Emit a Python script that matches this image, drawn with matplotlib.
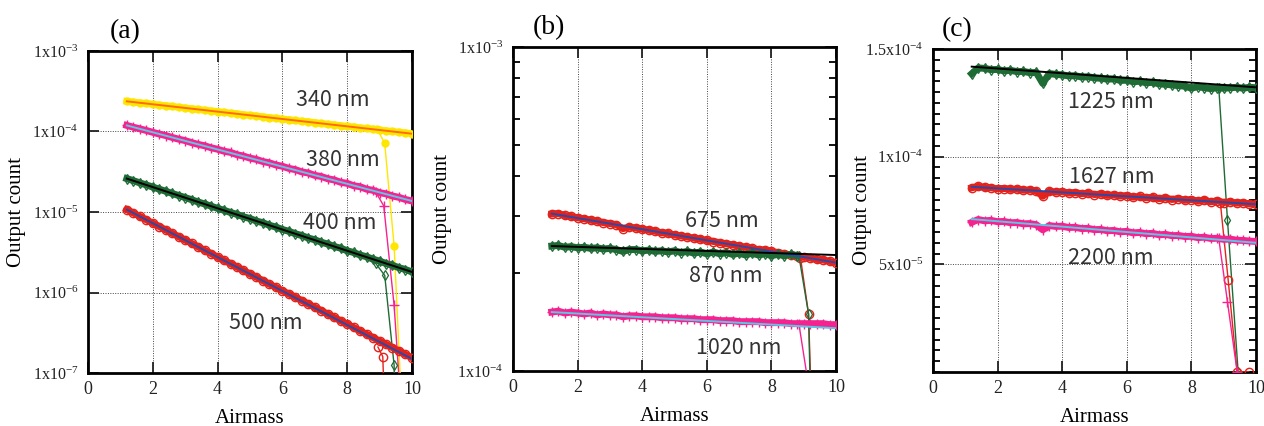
import matplotlib
matplotlib.use("Agg")
import matplotlib.pyplot as plt
from matplotlib.ticker import FixedLocator, FuncFormatter, MultipleLocator, NullLocator

plt.rcParams['font.family'] = ['Liberation Serif', 'DejaVu Serif']
plt.rcParams['mathtext.default'] = 'regular'

# airmass grid shared by every wavelength
airmass = [1.2, 1.4, 1.6, 1.8, 2.0, 2.2, 2.4, 2.6, 2.8, 3.0, 3.2, 3.4, 3.6, 3.8, 4.0,
           4.2, 4.4, 4.6, 4.8, 5.0, 5.2, 5.4, 5.6, 5.8, 6.0, 6.2, 6.4, 6.6, 6.8, 7.0,
           7.2, 7.4, 7.6, 7.8, 8.0, 8.2, 8.4, 8.6, 8.8, 9.0, 9.2, 9.4, 9.6, 9.8, 10.0]

# (a) UV / blue channels
c340 = [2.37e-4, 2.32e-4, 2.27e-4, 2.23e-4, 2.18e-4, 2.13e-4, 2.09e-4, 2.05e-4, 2.00e-4, 1.96e-4,
        1.92e-4, 1.88e-4, 1.84e-4, 1.80e-4, 1.77e-4, 1.73e-4, 1.69e-4, 1.66e-4, 1.62e-4, 1.59e-4,
        1.56e-4, 1.52e-4, 1.49e-4, 1.46e-4, 1.43e-4, 1.40e-4, 1.37e-4, 1.34e-4, 1.32e-4, 1.29e-4,
        1.26e-4, 1.23e-4, 1.21e-4, 1.18e-4, 1.16e-4, 1.14e-4, 1.11e-4, 1.09e-4, 1.07e-4, 1.04e-4,
        1.02e-4, 1.00e-4, 9.8e-5, 9.6e-5, 9.4e-5]
c380 = [1.19e-4, 1.13e-4, 1.08e-4, 1.03e-4, 9.77e-5, 9.30e-5, 8.90e-5, 8.43e-5, 8.03e-5, 7.70e-5,
        7.27e-5, 6.92e-5, 6.65e-5, 6.28e-5, 6.02e-5, 5.69e-5, 5.50e-5, 5.15e-5, 4.95e-5, 4.67e-5,
        4.50e-5, 4.23e-5, 4.08e-5, 3.84e-5, 3.70e-5, 3.48e-5, 3.36e-5, 3.15e-5, 3.05e-5, 2.85e-5,
        2.76e-5, 2.59e-5, 2.50e-5, 2.34e-5, 2.27e-5, 2.12e-5, 2.06e-5, 1.92e-5, 1.86e-5, 1.74e-5,
        1.68e-5, 1.58e-5, 1.52e-5, 1.43e-5, 1.37e-5]
c400 = [2.60e-5, 2.45e-5, 2.30e-5, 2.17e-5, 2.04e-5, 1.92e-5, 1.81e-5, 1.70e-5, 1.60e-5, 1.51e-5,
        1.42e-5, 1.33e-5, 1.26e-5, 1.18e-5, 1.11e-5, 1.05e-5, 9.85e-6, 9.35e-6, 8.72e-6, 8.30e-6,
        7.72e-6, 7.35e-6, 6.84e-6, 6.50e-6, 6.06e-6, 5.76e-6, 5.37e-6, 5.10e-6, 4.75e-6, 4.52e-6,
        4.21e-6, 4.00e-6, 3.73e-6, 3.55e-6, 3.30e-6, 3.14e-6, 2.92e-6, 2.78e-6, 2.59e-6, 2.46e-6,
        2.29e-6, 2.18e-6, 2.03e-6, 1.93e-6, 1.80e-6]
c500 = [1.07e-5, 9.71e-6, 8.82e-6, 8.00e-6, 7.27e-6, 6.60e-6, 5.99e-6, 5.44e-6, 4.93e-6, 4.48e-6,
        4.07e-6, 3.69e-6, 3.35e-6, 3.04e-6, 2.76e-6, 2.51e-6, 2.28e-6, 2.07e-6, 1.88e-6, 1.70e-6,
        1.55e-6, 1.40e-6, 1.27e-6, 1.16e-6, 1.05e-6, 9.60e-7, 8.70e-7, 7.95e-7, 7.20e-7, 6.55e-7,
        5.95e-7, 5.40e-7, 4.90e-7, 4.45e-7, 4.05e-7, 3.68e-7, 3.33e-7, 3.03e-7, 2.75e-7, 2.50e-7,
        2.27e-7, 2.06e-7, 1.88e-7, 1.70e-7, 1.55e-7]

# (b) visible / near-IR channels
c675 = [3.05e-4, 3.06e-4, 3.02e-4, 3.00e-4, 2.97e-4, 2.95e-4, 2.92e-4, 2.90e-4, 2.87e-4, 2.85e-4,
        2.83e-4, 2.75e-4, 2.78e-4, 2.76e-4, 2.74e-4, 2.72e-4, 2.70e-4, 2.67e-4, 2.66e-4, 2.63e-4,
        2.61e-4, 2.59e-4, 2.57e-4, 2.55e-4, 2.53e-4, 2.51e-4, 2.49e-4, 2.47e-4, 2.45e-4, 2.43e-4,
        2.41e-4, 2.39e-4, 2.37e-4, 2.36e-4, 2.34e-4, 2.32e-4, 2.30e-4, 2.28e-4, 2.27e-4, 2.25e-4,
        2.23e-4, 2.21e-4, 2.20e-4, 2.18e-4, 2.16e-4]
c870 = [2.43e-4, 2.44e-4, 2.41e-4, 2.42e-4, 2.40e-4, 2.41e-4, 2.39e-4, 2.40e-4, 2.38e-4, 2.39e-4,
        2.37e-4, 2.34e-4, 2.37e-4, 2.37e-4, 2.35e-4, 2.36e-4, 2.34e-4, 2.35e-4, 2.33e-4, 2.35e-4,
        2.32e-4, 2.34e-4, 2.31e-4, 2.33e-4, 2.30e-4, 2.33e-4, 2.30e-4, 2.32e-4, 2.29e-4, 2.31e-4,
        2.28e-4, 2.31e-4, 2.28e-4, 2.30e-4, 2.27e-4, 2.29e-4, 2.27e-4, 2.29e-4, 2.27e-4]
c1020 = [1.52e-4, 1.53e-4, 1.51e-4, 1.52e-4, 1.51e-4, 1.50e-4, 1.51e-4, 1.49e-4, 1.50e-4, 1.49e-4,
         1.49e-4, 1.47e-4, 1.48e-4, 1.48e-4, 1.47e-4, 1.47e-4, 1.47e-4, 1.46e-4, 1.46e-4, 1.46e-4,
         1.45e-4, 1.45e-4, 1.45e-4, 1.44e-4, 1.44e-4, 1.44e-4, 1.43e-4, 1.43e-4, 1.43e-4, 1.42e-4,
         1.42e-4, 1.42e-4, 1.42e-4, 1.41e-4, 1.41e-4, 1.41e-4, 1.41e-4, 1.40e-4, 1.40e-4, 1.40e-4,
         1.40e-4, 1.40e-4, 1.40e-4, 1.39e-4, 1.39e-4]

# (c) short-wave IR channels
c1225 = [1.385e-4, 1.412e-4, 1.410e-4, 1.404e-4, 1.405e-4, 1.398e-4, 1.401e-4, 1.395e-4, 1.396e-4, 1.390e-4,
         1.391e-4, 1.340e-4, 1.386e-4, 1.382e-4, 1.380e-4, 1.375e-4, 1.376e-4, 1.370e-4, 1.371e-4, 1.366e-4,
         1.364e-4, 1.360e-4, 1.361e-4, 1.354e-4, 1.355e-4, 1.348e-4, 1.350e-4, 1.343e-4, 1.345e-4, 1.338e-4,
         1.336e-4, 1.333e-4, 1.330e-4, 1.327e-4, 1.318e-4, 1.325e-4, 1.320e-4, 1.316e-4, 1.320e-4, 1.318e-4,
         1.320e-4, 1.322e-4, 1.318e-4, 1.322e-4, 1.320e-4]
c1627 = [8.55e-5, 8.62e-5, 8.57e-5, 8.55e-5, 8.51e-5, 8.52e-5, 8.48e-5, 8.49e-5, 8.44e-5, 8.45e-5,
         8.40e-5, 8.16e-5, 8.39e-5, 8.35e-5, 8.37e-5, 8.31e-5, 8.33e-5, 8.28e-5, 8.30e-5, 8.24e-5,
         8.26e-5, 8.20e-5, 8.22e-5, 8.17e-5, 8.19e-5, 8.12e-5, 8.15e-5, 8.09e-5, 8.11e-5, 8.05e-5,
         8.08e-5, 8.01e-5, 8.05e-5, 7.97e-5, 8.01e-5, 7.93e-5, 7.98e-5, 7.90e-5, 7.95e-5, 7.87e-5,
         7.90e-5, 7.84e-5, 7.86e-5, 7.80e-5, 7.80e-5]
c2200 = [6.95e-5, 7.08e-5, 7.02e-5, 7.04e-5, 6.98e-5, 6.99e-5, 6.93e-5, 6.94e-5, 6.88e-5, 6.89e-5,
         6.84e-5, 6.60e-5, 6.80e-5, 6.76e-5, 6.77e-5, 6.71e-5, 6.72e-5, 6.66e-5, 6.67e-5, 6.61e-5,
         6.62e-5, 6.56e-5, 6.57e-5, 6.51e-5, 6.53e-5, 6.46e-5, 6.48e-5, 6.42e-5, 6.44e-5, 6.37e-5,
         6.39e-5, 6.33e-5, 6.34e-5, 6.29e-5, 6.30e-5, 6.24e-5, 6.26e-5, 6.20e-5, 6.21e-5, 6.16e-5,
         6.17e-5, 6.12e-5, 6.11e-5, 6.08e-5, 6.06e-5]

# Langley fits: (airmass, count) at both ends
fit_x = [1.2, 10.0]
fit340 = [2.37e-4, 9.39e-5]
fit380 = [1.19e-4, 1.37e-5]
fit400 = [2.60e-5, 1.80e-6]
fit500 = [1.07e-5, 1.50e-7]
fit675 = [3.06e-4, 2.16e-4]
fit870 = [2.43e-4, 2.28e-4]
fit1020 = [1.52e-4, 1.355e-4]
fit1225 = [1.418e-4, 1.322e-4]
fit1627 = [8.60e-5, 7.79e-5]
fit2200 = [7.10e-5, 6.00e-5]

# sunset run, counts collapse past airmass ~9
drop340_x = [8.93, 9.16, 9.45, 9.75]
drop340_y = [1.07e-4, 7.1e-5, 3.8e-6, 1e-8]
drop380_x = [8.88, 9.13, 9.45, 9.70]
drop380_y = [1.78e-5, 1.19e-5, 6.9e-7, 2.2e-8]
drop400_x = [8.88, 9.16, 9.45, 9.50]
drop400_y = [2.3e-6, 1.63e-6, 1.25e-7, 1e-8]
drop500_x = [8.95, 9.10, 9.20]
drop500_y = [2.1e-7, 1.6e-7, 1e-8]
drop675_x = [8.90, 9.15, 9.22]
drop675_y = [2.24e-4, 1.5e-4, 9e-5]
drop870_x = [8.85, 9.15, 9.20]
drop870_y = [2.27e-4, 1.5e-4, 9e-5]
drop1020_x = [8.85, 9.15]
drop1020_y = [1.40e-4, 9e-5]
drop1225_x = [8.85, 9.12, 9.45]
drop1225_y = [1.32e-4, 7.05e-5, 0.0]
drop1627_x = [8.90, 9.14, 9.42, 9.78]
drop1627_y = [7.85e-5, 4.29e-5, 0.0, 0.0]
drop2200_x = [8.85, 9.12, 9.42]
drop2200_y = [6.2e-5, 3.25e-5, 0.0]

YELLOW, ORANGE = '#ffe600', '#ff6a10'
PINK, CYAN = '#f5238f', '#5cc6e4'
GREEN, BLACK = '#1f6b35', '#000000'
RED, BLUE = '#e3221c', '#2b48a6'

STYLE = {
    'yellow': dict(color=YELLOW, marker='o', ms=5, mfc=YELLOW, mec=YELLOW),
    'pink': dict(color=PINK, marker='+', ms=7, mew=1.0),
    'green': dict(color=GREEN, marker='d', ms=5, mfc='none', mew=0.9),
    'red': dict(color=RED, marker='o', ms=6, mfc='none', mew=1.0),
}
FIT_COLOR = {'yellow': ORANGE, 'pink': CYAN, 'green': BLACK, 'red': BLUE}


def draw_channel(ax, x, y, fit_y, dx, dy, kind):
    st = STYLE[kind]
    ax.plot(dx, dy, lw=1.0, zorder=3, **st)
    ax.plot(x, y, lw=5.0, zorder=4, **st)
    ax.plot(fit_x, fit_y, color=FIT_COLOR[kind], lw=1.4, zorder=5)


def sci_label(v):
    labels = {1e-7: '1x10$^{-7}$', 1e-6: '1x10$^{-6}$', 1e-5: '1x10$^{-5}$',
              1e-4: '1x10$^{-4}$', 1e-3: '1x10$^{-3}$', 5e-5: '5x10$^{-5}$',
              1.5e-4: '1.5x10$^{-4}$'}
    for k, s in labels.items():
        if abs(v - k) < k * 1e-6:
            return s
    return ''


def style_axes(ax, tag, tag_x):
    ax.set_xlim(0, 10)
    ax.xaxis.set_major_locator(MultipleLocator(2))
    ax.yaxis.set_major_formatter(FuncFormatter(lambda v, p: sci_label(v)))
    ax.grid(True, which='major', linestyle=(0, (1, 1.5)), color='#444444', linewidth=0.7)
    ax.set_axisbelow(True)
    ax.tick_params(which='both', direction='in', top=True, right=True, width=1.3)
    ax.tick_params(which='major', length=8)
    ax.tick_params(which='minor', length=5)
    ax.tick_params(axis='x', labelsize=13, pad=6, colors='#222222')
    ax.tick_params(axis='y', labelsize=11.5, pad=7, colors='#222222')
    for sp in ax.spines.values():
        sp.set_linewidth(2.0)
    ax.set_xlabel('Airmass', fontsize=15, labelpad=8)
    ax.set_ylabel('Output count', fontsize=15)
    ax.yaxis.set_label_coords(-0.19, 0.5)
    ax.text(tag_x, 1.02, tag, transform=ax.transAxes, fontsize=20, ha='left', va='bottom')


def note(ax, x, y, s):
    ax.text(x, y, s, ha='center', va='center', fontsize=15.5, color='#333333',
            family=['Noto Sans CJK JP', 'DejaVu Sans'], zorder=6)


fig = plt.figure(figsize=(12.64, 4.26), dpi=100)
ax_a = fig.add_axes([0.0696, 0.1244, 0.2563, 0.7559])
ax_b = fig.add_axes([0.4059, 0.1291, 0.2555, 0.7606])
ax_c = fig.add_axes([0.7381, 0.1268, 0.2555, 0.7582])

# (a)
draw_channel(ax_a, airmass, c340, fit340, drop340_x, drop340_y, 'yellow')
draw_channel(ax_a, airmass, c380, fit380, drop380_x, drop380_y, 'pink')
draw_channel(ax_a, airmass, c400, fit400, drop400_x, drop400_y, 'green')
draw_channel(ax_a, airmass, c500, fit500, drop500_x, drop500_y, 'red')
ax_a.set_yscale('log')
ax_a.set_ylim(1e-7, 1e-3)
ax_a.yaxis.set_major_locator(FixedLocator([1e-7, 1e-6, 1e-5, 1e-4, 1e-3]))
ax_a.yaxis.set_minor_locator(NullLocator())
style_axes(ax_a, '(a)', 0.068)
note(ax_a, 7.56, 2.46e-4, '340 nm')
note(ax_a, 7.87, 4.4e-5, '380 nm')
note(ax_a, 7.78, 7.3e-6, '400 nm')
note(ax_a, 5.49, 4.2e-7, '500 nm')

# (b)
draw_channel(ax_b, airmass, c675, fit675, drop675_x, drop675_y, 'red')
draw_channel(ax_b, airmass[:len(c870)], c870, fit870, drop870_x, drop870_y, 'green')
draw_channel(ax_b, airmass, c1020, fit1020, drop1020_x, drop1020_y, 'pink')
ax_b.set_yscale('log')
ax_b.set_ylim(1e-4, 1e-3)
ax_b.yaxis.set_major_locator(FixedLocator([1e-4, 1e-3]))
ax_b.yaxis.set_minor_locator(FixedLocator([k * 1e-4 for k in range(2, 10)]))
ax_b.yaxis.set_minor_formatter(FuncFormatter(lambda v, p: ''))
style_axes(ax_b, '(b)', 0.062)
note(ax_b, 6.47, 2.9e-4, '675 nm')
note(ax_b, 6.59, 1.96e-4, '870 nm')
note(ax_b, 7.0, 1.18e-4, '1020 nm')

# (c)
draw_channel(ax_c, airmass, c1225, fit1225, drop1225_x, drop1225_y, 'green')
draw_channel(ax_c, airmass, c1627, fit1627, drop1627_x, drop1627_y, 'red')
draw_channel(ax_c, airmass, c2200, fit2200, drop2200_x, drop2200_y, 'pink')
ax_c.set_ylim(0, 1.5e-4)
ax_c.yaxis.set_major_locator(FixedLocator([5e-5, 1e-4, 1.5e-4]))
ax_c.yaxis.set_minor_locator(MultipleLocator(5e-6))
style_axes(ax_c, '(c)', 0.028)
note(ax_c, 5.51, 1.254e-4, '1225 nm')
note(ax_c, 5.54, 9.06e-5, '1627 nm')
note(ax_c, 5.51, 5.29e-5, '2200 nm')

fig.savefig('out.png', dpi=100)
